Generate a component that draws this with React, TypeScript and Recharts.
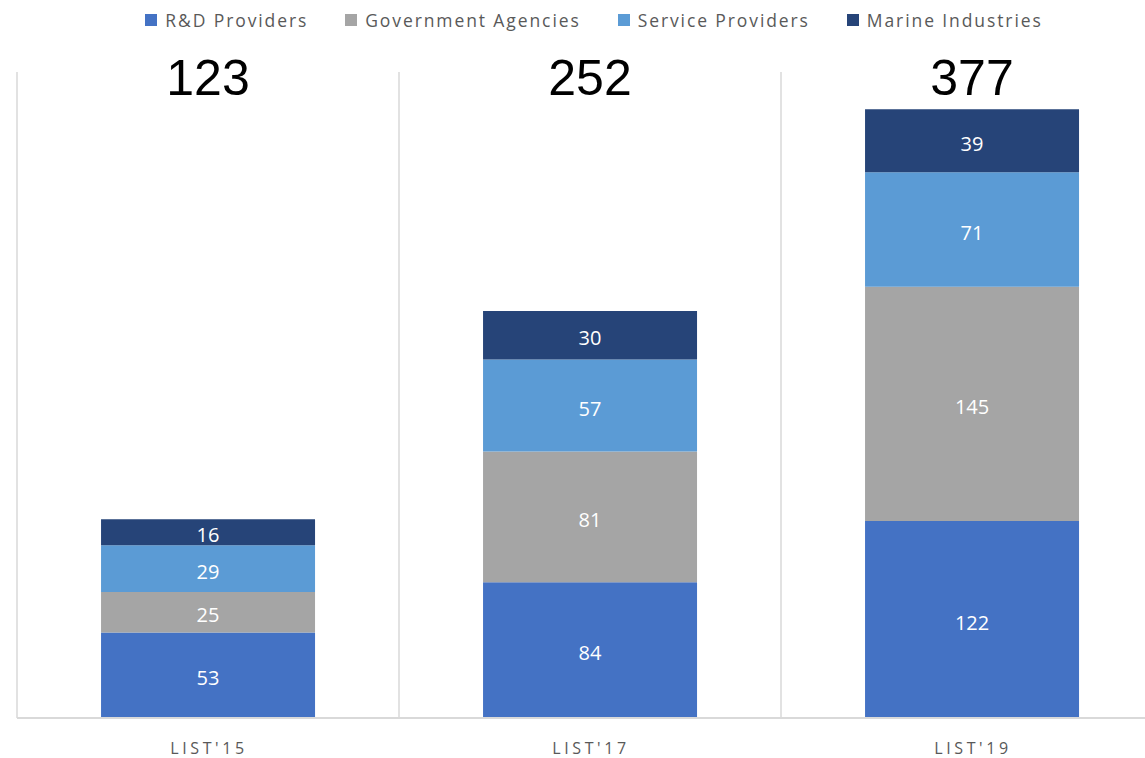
import React from 'react';
import { BarChart, Bar, XAxis, YAxis, CartesianGrid, Legend, LabelList } from 'recharts';

const categories = ["LIST'15", "LIST'17", "LIST'19"];
const rdProviders = [53, 84, 122];
const governmentAgencies = [25, 81, 145];
const serviceProviders = [29, 57, 71];
const marineIndustries = [16, 30, 39];
const totals = [123, 252, 377];

const seriesNames = ['R&D Providers', 'Government Agencies', 'Service Providers', 'Marine Industries'];
const seriesColors = ['#4472C4', '#A5A5A5', '#5B9BD5', '#264478'];
const seriesKeys = ['rd', 'gov', 'service', 'marine'];

const data = categories.map((c, i) => ({
  name: c,
  rd: rdProviders[i],
  gov: governmentAgencies[i],
  service: serviceProviders[i],
  marine: marineIndustries[i],
}));

const FONT = "'Open Sans', 'Liberation Sans', sans-serif";

const LegendContent = () => (
  <div style={{ display: 'flex', justifyContent: 'center', alignItems: 'center', height: 40, fontFamily: FONT, paddingLeft: 8 }}>
    {seriesNames.map((n, i) => (
      <div key={n} style={{ display: 'flex', alignItems: 'center', marginRight: i < 3 ? 37 : 0 }}>
        <span style={{ width: 12, height: 12, background: seriesColors[i], display: 'inline-block', marginRight: 8 }} />
        <span style={{ fontSize: 17.5, color: '#595959', letterSpacing: 1.9, lineHeight: '20px' }}>{n}</span>
      </div>
    ))}
  </div>
);

const TotalTick = (props: any) => {
  const { x, y, index } = props;
  return (
    <text x={x} y={y + 31} textAnchor="middle" fontFamily="'Liberation Sans', Arial, sans-serif" fontSize={50} fill="#000000">
      {totals[index]}
    </text>
  );
};

const CatTick = (props: any) => {
  const { x, y, payload } = props;
  return (
    <text x={x + 1} y={y + 28} textAnchor="middle" fontFamily={FONT} fontSize={16} fill="#595959" letterSpacing={3.6}>
      {payload.value}
    </text>
  );
};

const gridGen = ({ offset }: any) => [0, 1, 2, 3].map((i) => offset.left + (i * offset.width) / 3);

export default function App() {
  return (
    <div style={{ position: 'absolute', left: 0, top: 0, width: 1145, height: 758, overflow: 'hidden', background: '#fff' }}>
      <BarChart width={1188} height={758} data={data} margin={{ top: 0, right: 25, bottom: 0, left: 17 }} barCategoryGap="22%">
        <Legend verticalAlign="top" height={40} content={<LegendContent />} />
        <CartesianGrid horizontal={false} stroke="#D9D9D9" strokeWidth={1.5} verticalCoordinatesGenerator={gridGen} />
        <XAxis xAxisId="top" orientation="top" dataKey="name" height={32} axisLine={false} tickLine={false} tick={<TotalTick />} />
        <XAxis dataKey="name" height={40} axisLine={{ stroke: '#D9D9D9', strokeWidth: 2 }} tickLine={false} tick={<CatTick />} />
        <YAxis hide domain={[0, 400]} />
        {seriesKeys.map((k, i) => (
          <Bar key={k} dataKey={k} name={seriesNames[i]} stackId="a" fill={seriesColors[i]} isAnimationActive={false}>
            <LabelList dataKey={k} position="center" fill="#FFFFFF" fontSize={20} fontFamily={FONT} dy={3} />
          </Bar>
        ))}
      </BarChart>
    </div>
  );
}
